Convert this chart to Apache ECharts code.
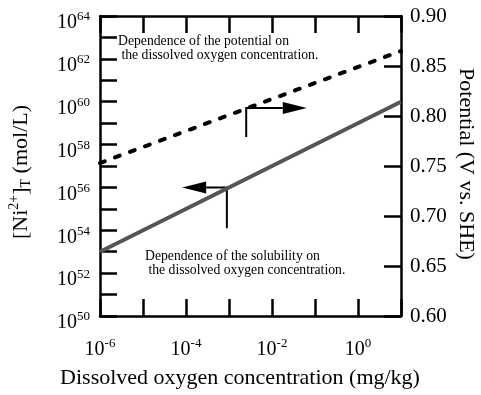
<!DOCTYPE html>
<html><head><meta charset="utf-8">
<script src="https://cdn.jsdelivr.net/npm/echarts@6/dist/echarts.min.js"></script>
<style>html,body{margin:0;padding:0;background:#fff}#c{width:481px;height:395px}</style>
</head><body><div id="c"></div>
<script>
// ---- data ----
const oxygen = [1e-6, 1e1];            // mg/kg
const solubility = [1e53, 1e60];       // [Ni2+]T mol/L
const potential = [0.753, 0.865];      // V vs. SHE
const xLabelExps = [-6, -4, -2, 0];
const yLabelExps = [50, 52, 54, 56, 58, 60, 62, 64];
const potentialTicks = [0.60, 0.65, 0.70, 0.75, 0.80, 0.85, 0.90];
const noteTop = ['Dependence of the potential on', ' the dissolved oxygen concentration.'];
const noteBottom = ['Dependence of the solubility on', ' the dissolved oxygen concentration.'];
// arrow anchors (data units)
const arrowPot = {base: [10 ** -2.6, 0.779], corner: [10 ** -2.6, 0.808], tip: [10 ** -1.19, 0.808]};
const arrowSol = {base: [10 ** -3.05, 10 ** 54.1], corner: [10 ** -3.05, 10 ** 56], tip: [10 ** -4.09, 10 ** 56]};

const FONT = '"Liberation Serif","Times New Roman",serif';
const lg = Math.log10;
const chart = echarts.init(document.getElementById('c'), null, {renderer: 'canvas'});
const rich = {
  b: {fontFamily: FONT, fontSize: 20, color: '#000'},
  s: {fontFamily: FONT, fontSize: 13, color: '#000', padding: [0, 0, 12, 0]}
};
const axisLine = {show: true, onZero: false, lineStyle: {color: '#000', width: 2.5}};
const axisTick = {show: true, inside: true, length: 17, lineStyle: {color: '#000', width: 2.5}};

chart.setOption({
  animation: false,
  grid: {left: 100, right: 80, top: 16, bottom: 79},
  xAxis: [
    {type: 'value', min: -6, max: 1, interval: 1, position: 'bottom', axisLine, axisTick,
     splitLine: {show: false},
     axisLabel: {margin: 21, rich, formatter: v => xLabelExps.includes(Math.round(v)) ? '{b|10}{s|' + Math.round(v) + '}' : ''}},
    {type: 'value', min: -6, max: 1, interval: 1, position: 'top', axisLine, axisTick,
     splitLine: {show: false}, axisLabel: {show: false}}
  ],
  yAxis: [
    {type: 'value', min: 50, max: 64, interval: 1, position: 'left', axisLine, axisTick,
     splitLine: {show: false},
     axisLabel: {margin: 10, padding: [14, 0, 0, 0], rich, formatter: v => yLabelExps.includes(Math.round(v)) ? '{b|10}{s|' + Math.round(v) + '}' : ''}},
    {type: 'value', min: 0.6, max: 0.9, interval: 0.05, position: 'right', axisLine, axisTick,
     splitLine: {show: false},
     axisLabel: {margin: 9, padding: [4, 0, 0, 0], fontFamily: FONT, fontSize: 21, color: '#000', formatter: v => v.toFixed(2)}}
  ],
  series: [
    {type: 'line', xAxisIndex: 0, yAxisIndex: 0, symbol: 'none',
     data: oxygen.map((x, i) => [lg(x), lg(solubility[i])]),
     lineStyle: {color: '#555', width: 4}},
    {type: 'line', xAxisIndex: 0, yAxisIndex: 1, symbol: 'none',
     data: oxygen.map((x, i) => [lg(x), potential[i]]),
     lineStyle: {color: '#000', width: 4, type: [5, 11], cap: 'round'}}
  ]
});

function px(pt, yIdx) {
  const y = yIdx === 0 ? lg(pt[1]) : pt[1];
  return chart.convertToPixel({xAxisIndex: 0, yAxisIndex: yIdx}, [lg(pt[0]), y]);
}
function arrowGraphics(a, yIdx) {
  const b = px(a.base, yIdx), c = px(a.corner, yIdx), t = px(a.tip, yIdx);
  const dir = t[0] > c[0] ? 1 : -1;
  const hb = [t[0] - dir * 24, t[1]];
  return [
    {type: 'polyline', shape: {points: [b, c, hb]}, style: {stroke: '#000', lineWidth: 2, fill: null}},
    {type: 'polygon', shape: {points: [t, [hb[0], t[1] - 6], [hb[0], t[1] + 6]]}, style: {fill: '#000'}}
  ];
}
const noteStyle = {fontFamily: FONT, fontSize: 13.7, fill: '#000'};
chart.setOption({
  graphic: [
    ...arrowGraphics(arrowPot, 1),
    ...arrowGraphics(arrowSol, 0),
    {type: 'text', x: 118, y: 41, style: Object.assign({text: noteTop[0], verticalAlign: 'middle'}, noteStyle)},
    {type: 'text', x: 118, y: 55, style: Object.assign({text: noteTop[1], verticalAlign: 'middle'}, noteStyle)},
    {type: 'text', x: 145, y: 256, style: Object.assign({text: noteBottom[0], verticalAlign: 'middle'}, noteStyle)},
    {type: 'text', x: 145, y: 270, style: Object.assign({text: noteBottom[1], verticalAlign: 'middle'}, noteStyle)},
    {type: 'text', x: 240, y: 378, style: {text: 'Dissolved oxygen concentration (mg/kg)', fontFamily: FONT, fontSize: 22, fill: '#000', align: 'center', verticalAlign: 'middle'}},
    {type: 'text', x: 466, y: 164, rotation: -Math.PI / 2, style: {text: 'Potential (V vs. SHE)', fontFamily: FONT, fontSize: 22, fill: '#000', align: 'center', verticalAlign: 'middle'}},
    {type: 'text', x: 21, y: 172, rotation: Math.PI / 2, style: {
      text: '{m|[Ni}{sup|2+}{m|]}{sub|T}{m| (mol/L)}', align: 'center', verticalAlign: 'middle',
      rich: {
        m: {fontFamily: FONT, fontSize: 22, fill: '#000'},
        sup: {fontFamily: FONT, fontSize: 14, fill: '#000', padding: [0, 0, 13, 0]},
        sub: {fontFamily: FONT, fontSize: 14, fill: '#000', padding: [11, 0, 0, 0]}
      }}}
  ]
});
</script>
</body></html>
